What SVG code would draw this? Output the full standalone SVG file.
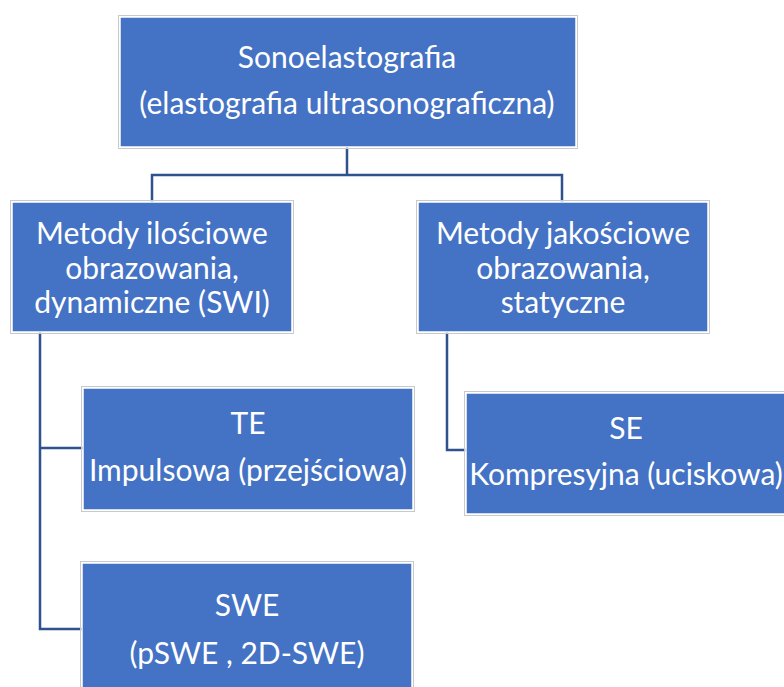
<svg xmlns="http://www.w3.org/2000/svg" width="784" height="687" viewBox="0 0 784 687">
  <style>
    .box { fill: #4472C4; stroke: #ffffff; stroke-width: 1.5; }
    .frame { fill: none; stroke: #c9c9c9; stroke-width: 1; }
    .label { font-family: Lato, "Open Sans", sans-serif; font-size: 30px; fill: #ffffff; text-anchor: middle; dominant-baseline: central; }
    .conn { fill: none; stroke: #2F528F; stroke-width: 2.5; }
  </style>
  <rect width="784" height="687" fill="#ffffff"/>

  <g id="connectors">
    <path class="conn" d="M347,147 V175 M152,202 V175 H562 V202"/>
    <path class="conn" d="M40,332 V629 H82 M40,448 H83"/>
    <path class="conn" d="M447,332 V450 H466"/>
  </g>

  <g id="root">
    <rect class="frame" x="118.5" y="15.5" width="459" height="133"/>
    <rect class="box" x="120" y="17" width="456" height="130"/>
    <text class="label" x="347" y="56">Sonoelastografia</text>
    <text class="label" x="347" y="102">(elastografia ultrasonograficzna)</text>
  </g>

  <g id="quantitative">
    <rect class="frame" x="10.5" y="200.5" width="283" height="133"/>
    <rect class="box" x="12" y="202" width="280" height="130"/>
    <text class="label" x="152" y="232">Metody ilościowe</text>
    <text class="label" x="152" y="267">obrazowania,</text>
    <text class="label" x="152" y="301">dynamiczne (SWI)</text>
  </g>

  <g id="qualitative">
    <rect class="frame" x="416.5" y="200.5" width="293" height="133"/>
    <rect class="box" x="418" y="202" width="290" height="130"/>
    <text class="label" x="563" y="232">Metody jakościowe</text>
    <text class="label" x="563" y="267">obrazowania,</text>
    <text class="label" x="563" y="301">statyczne</text>
  </g>

  <g id="te">
    <rect class="frame" x="81.5" y="386.5" width="333" height="125"/>
    <rect class="box" x="83" y="388" width="330" height="122"/>
    <text class="label" x="248" y="422">TE</text>
    <text class="label" x="248" y="469">Impulsowa (przejściowa)</text>
  </g>

  <g id="se">
    <rect class="frame" x="464.5" y="391.5" width="330" height="124"/>
    <rect class="box" x="466" y="393" width="327" height="121"/>
    <text class="label" x="626" y="427">SE</text>
    <text class="label" x="626" y="473">Kompresyjna (uciskowa)</text>
  </g>

  <g id="swe">
    <rect class="frame" x="80.5" y="561.5" width="333" height="140"/>
    <rect class="box" x="82" y="563" width="330" height="137"/>
    <text class="label" x="247" y="604">SWE</text>
    <text class="label" x="247" y="652">(pSWE , 2D-SWE)</text>
  </g>
</svg>
